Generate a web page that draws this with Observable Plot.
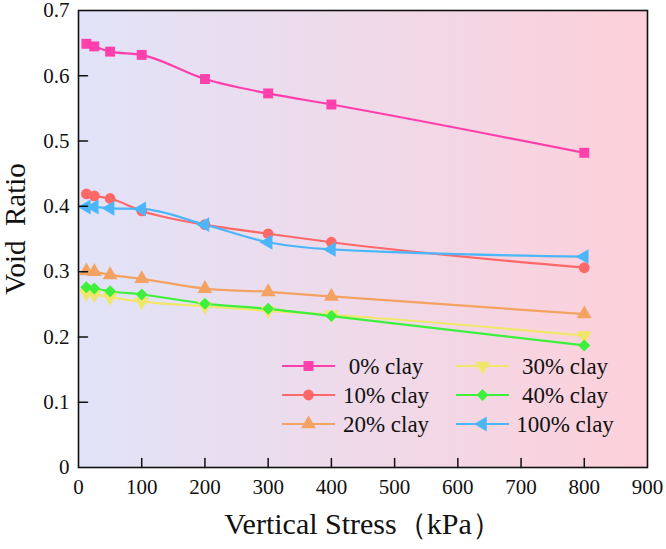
<!DOCTYPE html>
<html><head><meta charset="utf-8">
<script src="https://cdn.jsdelivr.net/npm/d3@7"></script>
<script src="https://cdn.jsdelivr.net/npm/@observablehq/plot@0.6"></script>
<style>body{margin:0;background:#fff}#chart svg{display:block}#chart text{font-family:"Liberation Serif",Tinos,"Times New Roman",serif}</style>
</head><body><div id="chart"></div>
<script>
// ---- data ----
const stress = [12.5, 25, 50, 100, 200, 300, 400, 800];
const seriesNames = ["0% clay", "10% clay", "20% clay", "30% clay", "40% clay", "100% clay"];
const clay0   = [0.649, 0.645, 0.637, 0.632, 0.595, 0.573, 0.556, 0.482];
const clay10  = [0.419, 0.416, 0.412, 0.393, 0.372, 0.358, 0.345, 0.306];
const clay20  = [0.301, 0.300, 0.295, 0.289, 0.274, 0.269, 0.262, 0.235];
const clay30  = [0.267, 0.265, 0.261, 0.254, 0.247, 0.240, 0.234, 0.202];
const clay40  = [0.276, 0.274, 0.270, 0.265, 0.251, 0.243, 0.232, 0.187];
const clay100 = [0.399, 0.399, 0.397, 0.396, 0.372, 0.345, 0.334, 0.323];
const seriesValues = [clay0, clay10, clay20, clay30, clay40, clay100];
const xTicks = [0, 100, 200, 300, 400, 500, 600, 700, 800, 900];
const yTicks = [0, 0.1, 0.2, 0.3, 0.4, 0.5, 0.6, 0.7];
const xTitle = "Vertical Stress（kPa）";
const yTitle = "Void  Ratio";

// ---- styling ----
const FONT = "Liberation Serif, Tinos, Times New Roman, serif";
const colors = ["#ff3fac", "#ff6868", "#f4a262", "#f0e66a", "#3cf03c", "#4cb6fb"];
const sqrt3 = Math.sqrt(3);
function triangle(deg) {
  const t = deg * Math.PI / 180, c = Math.cos(t), s = Math.sin(t);
  return {draw(ctx, size) {
    const y = -Math.sqrt(size / (sqrt3 * 3));
    const pts = [[0, y * 2], [-sqrt3 * y, -y], [sqrt3 * y, -y]].map(([a, b]) => [a * c - b * s, a * s + b * c]);
    ctx.moveTo(pts[0][0], pts[0][1]); ctx.lineTo(pts[1][0], pts[1][1]); ctx.lineTo(pts[2][0], pts[2][1]); ctx.closePath();
  }};
}
const symbols = [d3.symbolSquare, d3.symbolCircle, triangle(0), triangle(180), d3.symbolDiamond2, triangle(-90)];
const radii = [5.6, 5.4, 5.5, 5.5, 5.4, 5.5];
const tickShape = {draw(ctx, l) { ctx.moveTo(0, 0); ctx.lineTo(0, -l); }};

const seriesRows = seriesValues.map(vals => stress.map((s, i) => ({x: s, y: vals[i]})));

const marks = [
  Plot.frame({fill: "url(#bggrad)", stroke: "none"}),
];
seriesRows.forEach((rows, k) => {
  marks.push(Plot.line(rows, {x: "x", y: "y", stroke: colors[k], strokeWidth: 2.2, curve: "monotone-x"}));
});
seriesRows.forEach((rows, k) => {
  marks.push(Plot.dot(rows, {x: "x", y: "y", fill: colors[k], stroke: "none", symbol: symbols[k], r: radii[k]}));
});
marks.push(
  Plot.frame({stroke: "#111", strokeWidth: 1.6}),
  Plot.vector(xTicks.slice(1, -1), {x: d => d, frameAnchor: "bottom", length: 9, anchor: "start", rotate: 0, shape: tickShape, stroke: "#111", strokeWidth: 1.5}),
  Plot.vector(yTicks.slice(1, -1), {y: d => d, frameAnchor: "left", length: 9, anchor: "start", rotate: 90, shape: tickShape, stroke: "#111", strokeWidth: 1.5}),
  Plot.axisX(xTicks, {tickSize: 0, tickPadding: 12, tickFormat: d => String(d), label: null, fontSize: 21}),
  Plot.axisY(yTicks, {tickSize: 0, tickPadding: 9, tickFormat: d => d === 0 ? "0" : d.toFixed(1), label: null, fontSize: 21}),
  Plot.text([xTitle], {frameAnchor: "bottom", dy: 57, text: d => d, fontSize: 30, lineAnchor: "middle", textAnchor: "middle"}),
  Plot.text([yTitle], {frameAnchor: "left", dx: -63, dy: -10, text: d => d, fontSize: 29, rotate: -90, lineAnchor: "middle", textAnchor: "middle"})
);

const svg = Plot.plot({
  width: 666, height: 549,
  marginLeft: 78, marginRight: 19, marginTop: 10, marginBottom: 82,
  x: {domain: [0, 900]},
  y: {domain: [0, 0.7]},
  style: {fontFamily: FONT, fontSize: "21px", color: "#111", background: "white", overflow: "visible"},
  marks
});

// gradient background definition
const sel = d3.select(svg);
const grad = sel.insert("defs", ":first-child").append("linearGradient")
  .attr("id", "bggrad").attr("x1", "0%").attr("x2", "100%").attr("y1", "0%").attr("y2", "0%");
grad.append("stop").attr("offset", "0%").attr("stop-color", "#e1e3f8");
grad.append("stop").attr("offset", "100%").attr("stop-color", "#fdd0da");

// legend
const leg = sel.append("g").attr("font-size", 23).attr("font-family", FONT);
const colX = [[282, 335, 308.5, 386], [456, 509, 482.5, 565]];
const rowY = [366, 395, 424];
seriesNames.forEach((name, k) => {
  const [x1, x2, xm, xt] = colX[k < 3 ? 0 : 1];
  const y = rowY[k % 3];
  leg.append("line").attr("x1", x1).attr("x2", x2).attr("y1", y).attr("y2", y).attr("stroke", colors[k]).attr("stroke-width", 2.2);
  leg.append("path").attr("transform", `translate(${xm},${y})`)
    .attr("d", d3.symbol(symbols[k], Math.PI * radii[k] * radii[k])()).attr("fill", colors[k]);
  leg.append("text").attr("x", xt).attr("y", y).attr("dy", "0.33em").attr("text-anchor", "middle").attr("fill", "#111").text(name);
});

document.getElementById("chart").append(svg);
</script>
</body></html>
